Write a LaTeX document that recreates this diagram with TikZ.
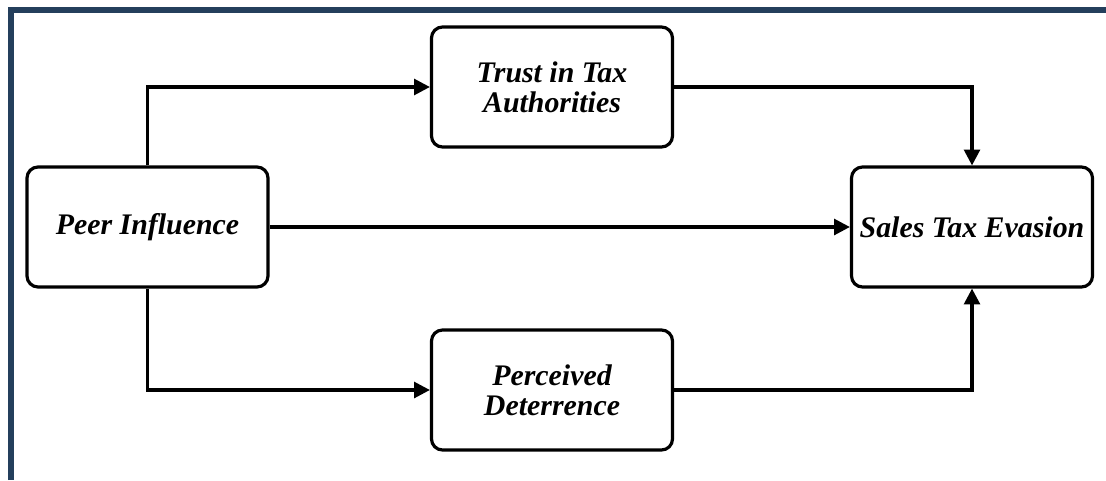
\documentclass[tikz,border=0pt]{standalone}
\usepackage{fontspec}
\setmainfont{Liberation Serif}
\usetikzlibrary{arrows.meta}
\definecolor{ramec}{HTML}{243F5C}

\begin{document}
\begin{tikzpicture}[
    font=\bfseries\itshape\fontsize{17}{17}\selectfont,
    box/.style={draw, line width=1.8pt, rounded corners=0.22cm, align=center, minimum width=4.82cm, minimum height=2.4cm, inner sep=2pt, fill=white},
    link/.style={line width=1.8pt, -{Triangle[length=9pt, width=9pt]}},
    >=Stealth]

    \useasboundingbox (0,0) rectangle (22.12,9.6);

    % ramecek nahore a vlevo
    \draw[ramec, line width=3.4pt] (0.212,0) |- (22.12,9.408);

    % uzly
    \node[box] (peer) at (2.95,5.06) {Peer Influence};
    \node[box] (trust) at (11.04,7.86) {Trust in Tax\\Authorities};
    \node[box] (deter) at (11.04,1.8) {Perceived\\Deterrence};
    \node[box] (evasion) at (19.44,5.06) {Sales Tax Evasion};

    % vazby
    \draw[link] (peer.north) |- (trust.west);
    \draw[link] (trust.east) -| (evasion.north);
    \draw[link] (peer.east) -- (evasion.west);
    \draw[link] (peer.south) |- (deter.west);
    \draw[link] (deter.east) -| (evasion.south);
\end{tikzpicture}
\end{document}
